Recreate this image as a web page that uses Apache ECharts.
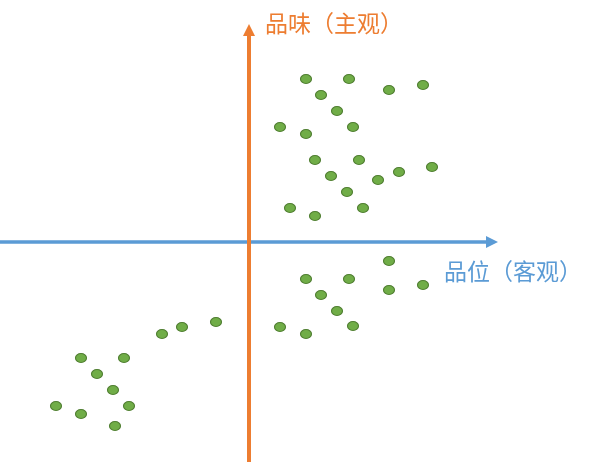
<!DOCTYPE html>
<html>
<head>
<meta charset="utf-8">
<script src="https://cdn.jsdelivr.net/npm/echarts@6/dist/echarts.min.js"></script>
<style>
html,body{margin:0;padding:0;background:#fff;}
#c{width:600px;height:462px;}
</style>
</head>
<body>
<div id="c"></div>
<script>
// Axis titles
const xName = '品位（客观）';
const yName = '品味（主观）';

// Objective taste (x) and subjective taste (y) scores, origin at the axis crossing
const upperRightX = [57, 100, 140, 174, 72, 88, 31, 57, 104, 66, 110, 82, 129, 150, 183, 98, 41, 66, 114];
const upperRightY = [163, 163, 152, 157, 147, 131, 115, 108, 115, 82, 82, 66, 62, 70, 75, 50, 34, 26, 34];

const lowerRightX = [57, 100, 140, 140, 174, 72, 88, 31, 57, 104];
const lowerRightY = [-37, -37, -19, -48, -43, -53, -69, -85, -92, -84];

const lowerLeftX = [-33, -67, -87, -168, -125, -152, -136, -193, -168, -120, -134];
const lowerLeftY = [-80, -85, -92, -116, -116, -132, -148, -164, -172, -164, -184];

const allX = upperRightX.concat(lowerRightX, lowerLeftX);
const allY = upperRightY.concat(lowerRightY, lowerLeftY);
const points = allX.map((x, i) => [x, allY[i]]);

const chart = echarts.init(document.getElementById('c'), null, {renderer: 'canvas'});
chart.setOption({
  animation: false,
  backgroundColor: '#ffffff',
  grid: {left: 0, top: 30, width: 492, bottom: 0, containLabel: false},
  xAxis: {
    type: 'value', min: -249, max: 243,
    axisLine: {onZero: true, lineStyle: {color: '#5B9BD5', width: 3.5},
      symbol: ['none', 'triangle'], symbolSize: [12, 12]},
    axisTick: {show: false}, axisLabel: {show: false}, splitLine: {show: false}
  },
  yAxis: {
    type: 'value', min: -220, max: 212,
    z: 3,
    axisLine: {onZero: true, lineStyle: {color: '#ED7D31', width: 4},
      symbol: ['none', 'triangle'], symbolSize: [12, 12]},
    axisTick: {show: false}, axisLabel: {show: false}, splitLine: {show: false}
  },
  graphic: [
    {type: 'text', x: 265, y: 23, style: {text: yName, fill: '#ED7D31',
      font: '23px "Noto Sans CJK SC"', verticalAlign: 'middle', align: 'left'}},
    {type: 'text', x: 444, y: 271, style: {text: xName, fill: '#5B9BD5',
      font: '23px "Noto Sans CJK SC"', verticalAlign: 'middle', align: 'left'}}
  ],
  series: [{
    type: 'scatter',
    data: points,
    symbol: 'circle',
    symbolSize: [11, 9],
    z: 5,
    itemStyle: {color: '#70AD47', borderColor: '#507E32', borderWidth: 1, opacity: 1}
  }]
});
</script>
</body>
</html>
